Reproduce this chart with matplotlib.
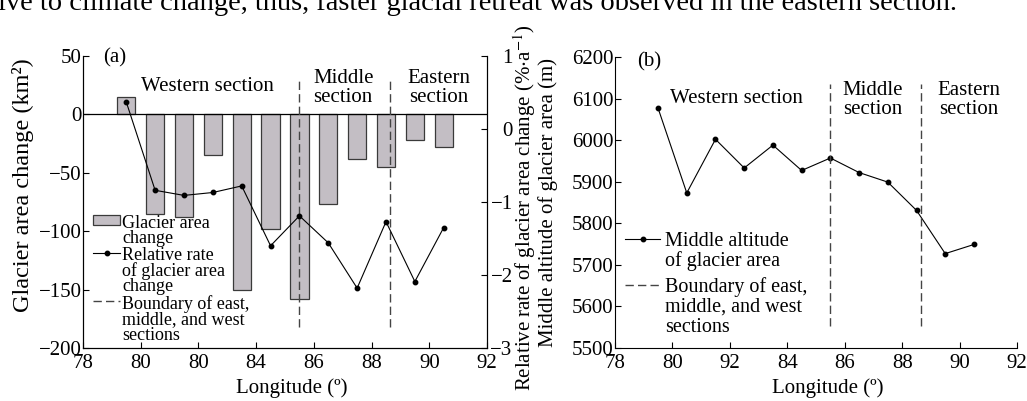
import numpy as np
import matplotlib.pyplot as plt

plt.rcParams['font.family'] = ['Liberation Serif', 'DejaVu Serif']
plt.rcParams['mathtext.fontset'] = 'stix'

# data
lon = [79.5, 80.5, 81.5, 82.5, 83.5, 84.5, 85.5, 86.5, 87.5, 88.5, 89.5, 90.5]
area_change = [15, -85, -88, -35, -150, -98, -158, -77, -38, -45, -22, -28]
rel_rate = [0.37, -0.84, -0.91, -0.87, -0.78, -1.60, -1.19, -1.56, -2.18, -1.27, -2.09, -1.35]
mid_alt = [6077, 5873, 6002, 5933, 5988, 5927, 5957, 5922, 5899, 5831, 5727, 5749]
bounds = [85.5, 88.65]

xticks = [78, 80, 82, 84, 86, 88, 90, 92]
xlabels_a = ['78', '80', '80', '84', '86', '88', '90', '92']
xlabels_b = ['78', '80', '92', '84', '86', '88', '90', '92']

caption = 'ive to climate change, thus, faster glacial retreat was observed in the eastern section.'

bar_color = '#c3bec4'
fs = 15


def top_align(leg):
    # put each handle level with the first line of its (multi-line) label
    for col in leg._legend_handle_box.get_children():
        for row in col.get_children():
            row.align = 'top'


fig = plt.figure(figsize=(10.27, 4.01), dpi=100)
ax = fig.add_axes([0.0808, 0.1322, 0.3934, 0.7282])
ax2 = ax.twinx()
bx = fig.add_axes([0.5988, 0.1322, 0.3915, 0.7257])

fig.text(-0.002, 0.975, caption, fontsize=20.5, va='baseline', ha='left')

# ---- panel (a)
bars = ax.bar(lon, area_change, width=0.63, color=bar_color, edgecolor='#3a3a3a',
              linewidth=0.9, label='Glacier area\nchange')
ax.axhline(0, color='black', lw=0.9)
bl = ax.vlines(bounds, -182, 30, colors='#444444', linestyles=(0, (6, 3)), lw=1.0,
               label='Boundary of east,\nmiddle, and west\nsections')
line, = ax2.plot(lon, rel_rate, color='black', lw=0.8, marker='o', ms=3.2,
                 label='Relative rate\nof glacier area\nchange')

ax.set_xlim(78, 92)
ax.set_ylim(-200, 50)
ax2.set_ylim(-3, 1)
ax.set_xticks(xticks)
ax.set_xticklabels(xlabels_a)
ax.set_yticks(np.arange(-200, 51, 50))
ax2.set_yticks([-3, -2, -1, 0, 1])
ax.tick_params(direction='in', length=4.5, width=0.8, labelsize=fs, pad=1)
ax.tick_params(axis='x', pad=4)
ax2.tick_params(direction='in', length=4.5, width=0.8, labelsize=fs, pad=18.5)
for t in ax2.get_yticklabels():
    t.set_ha('right')
ax.spines['top'].set_visible(False)
ax2.spines['top'].set_visible(False)

ax.set_xlabel('Longitude (º)', fontsize=fs)
ax.xaxis.set_label_coords(0.517, -0.103)
ax.set_ylabel('Glacier area change (km²)', fontsize=17.5)
ax.yaxis.set_label_coords(-0.149, 0.558)
ax2.set_ylabel(r'Relative rate of glacier area change (%$\cdot$a$^{-1}$)', fontsize=fs)
ax2.yaxis.set_label_coords(1.094, 0.48)
ax2.yaxis.label.set_va('center')
ax.yaxis.label.set_va('center')

ax.text(0.079, 0.995, '(a)', transform=ax.transAxes, fontsize=fs, ha='center', va='center')
ax.text(0.307, 0.894, 'Western section', transform=ax.transAxes, fontsize=fs,
        ha='center', va='center')
ax.text(0.644, 0.89, 'Middle\nsection', transform=ax.transAxes, fontsize=fs,
        ha='center', va='center', linespacing=0.95)
ax.text(0.881, 0.89, 'Eastern\nsection', transform=ax.transAxes, fontsize=fs,
        ha='center', va='center', linespacing=0.95)

leg = ax2.legend([bars, line, bl], [bars.get_label(), line.get_label(), bl.get_label()],
                 loc='upper left', bbox_to_anchor=(0.025, 0.455), frameon=False,
                 fontsize=13, borderpad=0, borderaxespad=0, labelspacing=0.0,
                 handlelength=1.5, handletextpad=0.1, handleheight=0.5)
for t in leg.get_texts():
    t.set_linespacing(0.86)
top_align(leg)

# ---- panel (b)
bx.plot(lon, mid_alt, color='black', lw=0.8, marker='o', ms=3.2,
        label='Middle altitude\nof glacier area')
bx.vlines(bounds, 5552, 6134, colors='#444444', linestyles=(0, (6, 3)), lw=1.0,
          label='Boundary of east,\nmiddle, and west\nsections')
bx.set_xlim(78, 92)
bx.set_ylim(5500, 6200)
bx.set_xticks(xticks)
bx.set_xticklabels(xlabels_b)
bx.set_yticks(np.arange(5500, 6201, 100))
bx.tick_params(direction='in', length=4.5, width=0.8, labelsize=fs, pad=1)
bx.tick_params(axis='x', pad=4)
bx.spines['top'].set_visible(False)
bx.spines['right'].set_visible(False)
bx.set_xlabel('Longitude (º)', fontsize=fs)
bx.xaxis.set_label_coords(0.53, -0.103)
bx.set_ylabel('Middle altitude of glacier area (m)', fontsize=fs)
bx.yaxis.set_label_coords(-0.167, 0.5)
bx.yaxis.label.set_va('center')

bx.text(0.085, 0.983, '(b)', transform=bx.transAxes, fontsize=fs, ha='center', va='center')
bx.text(0.301, 0.859, 'Western section', transform=bx.transAxes, fontsize=fs,
        ha='center', va='center')
bx.text(0.642, 0.852, 'Middle\nsection', transform=bx.transAxes, fontsize=fs,
        ha='center', va='center', linespacing=0.95)
bx.text(0.881, 0.852, 'Eastern\nsection', transform=bx.transAxes, fontsize=fs,
        ha='center', va='center', linespacing=0.95)

leg_b = bx.legend(loc='upper left', bbox_to_anchor=(0.025, 0.40), frameon=False,
                  fontsize=14.5, borderpad=0, borderaxespad=0, labelspacing=0.3,
                  handlelength=1.75, handletextpad=0.25, handleheight=0.8)
for t in leg_b.get_texts():
    t.set_linespacing(1.05)
top_align(leg_b)

fig.savefig('out.png', dpi=100)
